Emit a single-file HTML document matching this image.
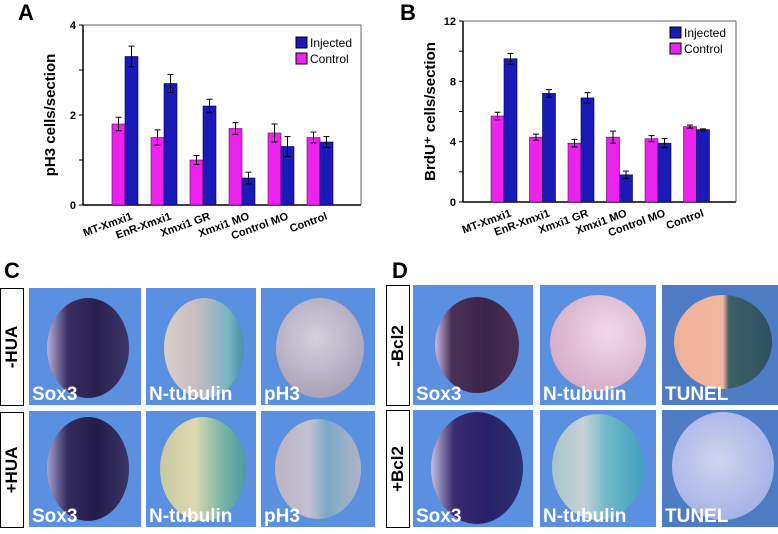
<!DOCTYPE html>
<html><head><meta charset="utf-8"><style>
body{margin:0;width:778px;height:534px;background:#fff;position:relative;overflow:hidden;font-family:"Liberation Sans",Arial,sans-serif}
.pl{position:absolute;font-weight:bold;font-size:22px}
.ph{position:absolute;background:#5b8fe0;overflow:hidden}
.emb{position:absolute;border-radius:50%}
.lab{position:absolute;left:3px;bottom:0;color:#fff;font-weight:bold;font-size:19px;line-height:20px}
.rb{position:absolute;border:1.5px solid #000;background:#fff}
.rb span{position:absolute;left:50%;top:50%;transform:translate(-50%,-50%) rotate(-90deg);font-weight:bold;font-size:17px;white-space:nowrap}
</style></head><body>
<div class="pl" style="left:18px;top:0">A</div>
<div class="pl" style="left:400px;top:0">B</div>
<div class="pl" style="left:4px;top:258px">C</div>
<div class="pl" style="left:392px;top:258px">D</div>
<svg id="chartA" width="390" height="260" style="position:absolute;left:0;top:0"></svg>
<svg id="chartB" width="388" height="260" style="position:absolute;left:390px;top:0"></svg>

<div class="rb" style="left:0;top:288px;width:22px;height:116px"><span>-HUA</span></div>
<div class="rb" style="left:0;top:412px;width:22px;height:114px"><span>+HUA</span></div>
<div class="rb" style="left:386px;top:285px;width:22px;height:119px"><span>-Bcl2</span></div>
<div class="rb" style="left:386px;top:410px;width:22px;height:116px"><span>+Bcl2</span></div>

<div class="ph" style="left:29px;top:288px;width:112px;height:117px"><div class="emb" style="left:18px;top:10px;width:82px;height:100px;background:linear-gradient(90deg,#b8b0d8 0%,#3a2f66 25%,#2a2050 60%,#3b3468 100%)"></div><div class="lab">Sox3</div></div>
<div class="ph" style="left:146px;top:288px;width:110px;height:117px"><div class="emb" style="left:18px;top:10px;width:80px;height:100px;background:linear-gradient(90deg,#d8d0c8 0%,#c8bcc0 40%,#7ab4c4 80%,#4a8ea8 100%)"></div><div class="lab">N-tubulin</div></div>
<div class="ph" style="left:261px;top:288px;width:114px;height:117px"><div class="emb" style="left:15px;top:10px;width:88px;height:100px;background:radial-gradient(circle at 45% 40%,#d4d0dc,#a8a0b8 80%,#8a86a8)"></div><div class="lab">pH3</div></div>
<div class="ph" style="left:29px;top:411px;width:112px;height:116px"><div class="emb" style="left:18px;top:6px;width:82px;height:104px;background:linear-gradient(90deg,#a8a0cc 0%,#332a60 25%,#241c4a 60%,#3a3468 100%)"></div><div class="lab">Sox3</div></div>
<div class="ph" style="left:146px;top:411px;width:110px;height:116px"><div class="emb" style="left:14px;top:6px;width:86px;height:104px;background:linear-gradient(90deg,#c8c8a0 0%,#e0d8b0 40%,#80b8a8 70%,#4e9aa0 100%)"></div><div class="lab">N-tubulin</div></div>
<div class="ph" style="left:261px;top:411px;width:114px;height:116px"><div class="emb" style="left:14px;top:8px;width:86px;height:100px;background:linear-gradient(90deg,#b8b4c4 0%,#c4c0d0 40%,#7aa8c8 60%,#b0b4c8 100%)"></div><div class="lab">pH3</div></div>

<div class="ph" style="left:413px;top:285px;width:120px;height:120px"><div class="emb" style="left:22px;top:12px;width:84px;height:96px;background:linear-gradient(90deg,#c8b8e0 0%,#4a3058 20%,#3a2448 60%,#4a3058 100%)"></div><div class="lab">Sox3</div></div>
<div class="ph" style="left:540px;top:285px;width:116px;height:120px"><div class="emb" style="left:10px;top:10px;width:96px;height:96px;background:radial-gradient(circle at 60% 40%,#f0d8e8,#d8b0cc 70%,#b888a8)"></div><div class="lab">N-tubulin</div></div>
<div class="ph" style="left:662px;top:285px;width:116px;height:120px;background:#4e7cc4"><div class="emb" style="left:12px;top:10px;width:98px;height:94px;background:linear-gradient(90deg,#f0b098 0%,#f4b8a0 50%,#3a6068 56%,#2e5060 100%)"></div><div class="lab">TUNEL</div></div>
<div class="ph" style="left:413px;top:410px;width:120px;height:117px"><div class="emb" style="left:18px;top:2px;width:92px;height:112px;background:linear-gradient(90deg,#c4c0dc 0%,#3a2a70 25%,#2a2068 60%,#2a3070 100%)"></div><div class="lab">Sox3</div></div>
<div class="ph" style="left:540px;top:410px;width:116px;height:117px"><div class="emb" style="left:12px;top:4px;width:92px;height:106px;background:linear-gradient(90deg,#a8c4c8 0%,#c8d0d8 35%,#70b8c8 60%,#40a0c0 100%)"></div><div class="lab">N-tubulin</div></div>
<div class="ph" style="left:662px;top:410px;width:116px;height:117px;background:#4e7cc4"><div class="emb" style="left:10px;top:2px;width:102px;height:108px;background:radial-gradient(circle at 45% 45%,#d0d4f0,#a8b4e8 70%,#7c98d8)"></div><div class="lab">TUNEL</div></div>

<script>
const categories=["MT-Xmxi1","EnR-Xmxi1","Xmxi1 GR","Xmxi1 MO","Control MO","Control"];
const aControl=[1.8,1.5,1.0,1.7,1.6,1.5];
const aInjected=[3.3,2.7,2.2,0.6,1.3,1.4];
const aControlErr=[0.15,0.17,0.1,0.13,0.2,0.12];
const aInjectedErr=[0.23,0.2,0.15,0.13,0.22,0.12];
const aTicks=[0,2,4];
const bControl=[5.7,4.3,3.9,4.3,4.2,5.0];
const bInjected=[9.5,7.2,6.9,1.8,3.9,4.8];
const bControlErr=[0.25,0.2,0.25,0.4,0.2,0.1];
const bInjectedErr=[0.35,0.25,0.35,0.25,0.3,0.05];
const bTicks=[0,4,8,12];
const NS="http://www.w3.org/2000/svg";
function mk(svg,tag,at,name){const e=document.createElementNS(NS,tag);for(const k in at)e.setAttribute(k,at[k]);


svg.appendChild(e);return e;}
function draw(id,cfg,ctrl,inj,ce,ie,ticks){
 const svg=document.getElementById(id);
 const y=v=>cfg.y0-(v/cfg.max)*(cfg.y0-cfg.y1);
 const x=i=>cfg.x0+cfg.g0+i*cfg.gs;
 mk(svg,'line',{x1:cfg.x0,y1:cfg.y1,x2:cfg.x0,y2:cfg.y0,stroke:'#000','stroke-width':1.5},'y-axis');
 mk(svg,'line',{x1:cfg.x0,y1:cfg.y0,x2:cfg.xe,y2:cfg.y0,stroke:'#000','stroke-width':1.5},'x-axis');
 mk(svg,'line',{x1:cfg.x0,y1:cfg.y1,x2:cfg.xe,y2:cfg.y1,stroke:'#666','stroke-width':1},'plot-top-border');
 mk(svg,'line',{x1:cfg.xe,y1:cfg.y1,x2:cfg.xe,y2:cfg.y0,stroke:'#666','stroke-width':1},'plot-right-border');
 const steps=(ticks.length-1)*2;
 for(let k=0;k<=steps;k++){const v=k*cfg.max/steps;mk(svg,'line',{x1:cfg.x0-4,y1:y(v),x2:cfg.x0,y2:y(v),stroke:'#000'},'y-tick');}
 ticks.forEach(t=>{const e=mk(svg,'text',{x:cfg.x0-7,y:y(t)+4,'text-anchor':'end','font-size':11,'font-weight':'bold'},'y-tick-label');e.textContent=t;});
 const yt=mk(svg,'text',{x:0,y:0,transform:`translate(${cfg.x0-28},${(cfg.y0+cfg.y1)/2}) rotate(-90)`,'text-anchor':'middle','font-size':15,'font-weight':'bold'},'y-axis-title');yt.textContent=cfg.title;
 const bw=13;
 categories.forEach((c,i)=>{
  mk(svg,'rect',{x:x(i),y:y(ctrl[i]),width:bw,height:cfg.y0-y(ctrl[i]),fill:'#ee22ee',stroke:'#600060','stroke-width':0.6},'bar-control');
  mk(svg,'rect',{x:x(i)+bw,y:y(inj[i]),width:bw,height:cfg.y0-y(inj[i]),fill:'#1a1ab8',stroke:'#000050','stroke-width':0.6},'bar-injected');
  [[ctrl[i],ce[i],x(i)+bw/2],[inj[i],ie[i],x(i)+bw*1.5]].forEach(([v,e,cx])=>{
   mk(svg,'line',{x1:cx,y1:y(v+e),x2:cx,y2:y(v-e),stroke:'#000'},'error-bar');
   mk(svg,'line',{x1:cx-3,y1:y(v+e),x2:cx+3,y2:y(v+e),stroke:'#000'},'error-cap');
   mk(svg,'line',{x1:cx-3,y1:y(v-e),x2:cx+3,y2:y(v-e),stroke:'#000'},'error-cap');
  });
  const t=mk(svg,'text',{x:0,y:0,transform:`translate(${x(i)+bw+8},${cfg.y0+14}) rotate(-20)`,'text-anchor':'end','font-size':11,'font-weight':'bold'},'x-tick-label');t.textContent=c;
 });
 mk(svg,'rect',{x:cfg.lx,y:cfg.ly,width:11,height:11,fill:'#1a1ab8',stroke:'#000'},'legend-swatch-injected');
 let t=mk(svg,'text',{x:cfg.lx+14,y:cfg.ly+10,'font-size':12},'legend-label-injected');t.textContent='Injected';
 mk(svg,'rect',{x:cfg.lx,y:cfg.ly+16,width:11,height:11,fill:'#ee22ee',stroke:'#000'},'legend-swatch-control');
 t=mk(svg,'text',{x:cfg.lx+14,y:cfg.ly+26,'font-size':12},'legend-label-control');t.textContent='Control';
}
draw('chartA',{x0:83,xe:361,y0:205,y1:25,max:4,g0:29,gs:39,title:'pH3 cells/section',lx:296,ly:37},aControl,aInjected,aControlErr,aInjectedErr,aTicks);
draw('chartB',{x0:73,xe:346,y0:202,y1:21,max:12,g0:28,gs:38.5,title:'BrdU\u207A cells/section',lx:280,ly:27},bControl,bInjected,bControlErr,bInjectedErr,bTicks);
</script>
</body></html>
